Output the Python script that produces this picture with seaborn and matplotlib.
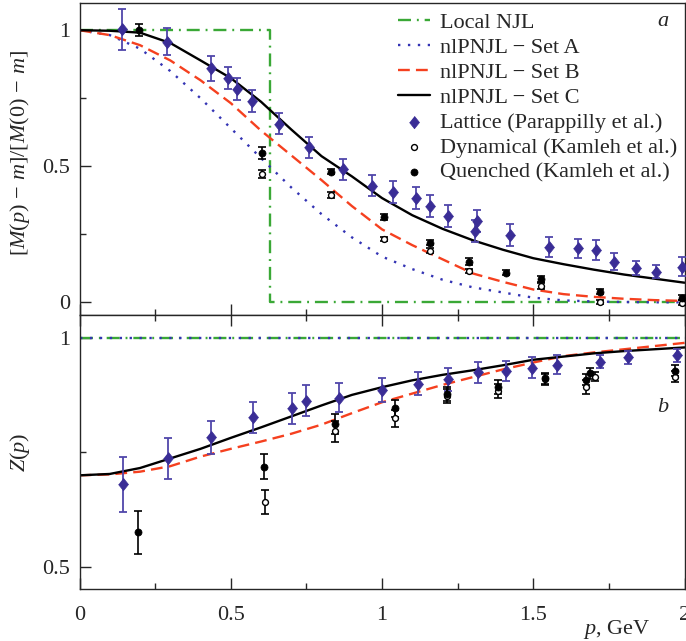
import matplotlib
matplotlib.use("Agg")
import matplotlib.pyplot as plt
from matplotlib.ticker import MultipleLocator, FuncFormatter
import seaborn as sns
import pandas as pd

# ---------------- data ----------------
p_curve = [0.0, 0.1, 0.2, 0.3, 0.4, 0.5, 0.6, 0.7, 0.8, 0.9, 1.0,
           1.1, 1.2, 1.3, 1.4, 1.5, 1.6, 1.7, 1.8, 1.9, 2.0]
M_setA = [1.0, 0.982, 0.932, 0.85, 0.75, 0.64, 0.53, 0.422, 0.324, 0.239, 0.168,
          0.122, 0.083, 0.055, 0.036, 0.017, 0.007, 0.003, 0.001, 0.0, 0.0]
M_setB = [1.0, 0.982, 0.945, 0.889, 0.816, 0.732, 0.631, 0.540, 0.449, 0.354, 0.268,
          0.21, 0.158, 0.106, 0.075, 0.047, 0.030, 0.020, 0.013, 0.008, 0.005]
M_setC = [1.0, 0.998, 0.991, 0.953, 0.889, 0.824, 0.737, 0.635, 0.537, 0.463, 0.383,
          0.32, 0.27, 0.228, 0.193, 0.162, 0.140, 0.120, 0.102, 0.087, 0.072]
Z_setB = [0.700, 0.702, 0.708, 0.720, 0.741, 0.758, 0.774, 0.791, 0.811, 0.836, 0.860,
          0.879, 0.898, 0.915, 0.932, 0.947, 0.961, 0.969, 0.976, 0.983, 0.990]
Z_setC = [0.700, 0.703, 0.716, 0.737, 0.758, 0.782, 0.805, 0.829, 0.853, 0.876, 0.893,
          0.908, 0.920, 0.930, 0.941, 0.953, 0.960, 0.967, 0.972, 0.976, 0.980]

local_p = [0.0, 0.628, 0.628, 2.0]
local_M = [1.0, 1.0, 0.0, 0.0]
flat_p = [0.0, 2.0]
flat_Z = [1.0, 1.0]

latt_p_M = [0.141, 0.290, 0.436, 0.492, 0.521, 0.569, 0.658, 0.759, 0.872, 0.966, 1.036, 1.111,
            1.160, 1.218, 1.306, 1.314, 1.422, 1.551, 1.648, 1.706, 1.767, 1.841, 1.904, 1.990]
latt_M = [1.004, 0.958, 0.860, 0.823, 0.783, 0.740, 0.656, 0.570, 0.489, 0.428, 0.404, 0.382,
          0.354, 0.317, 0.263, 0.300, 0.247, 0.204, 0.198, 0.192, 0.149, 0.125, 0.113, 0.131]
latt_M_err = [0.075, 0.05, 0.046, 0.04, 0.04, 0.04, 0.039, 0.038, 0.039, 0.039, 0.04, 0.04,
              0.039, 0.039, 0.04, 0.04, 0.04, 0.036, 0.036, 0.037, 0.031, 0.026, 0.025, 0.035]

q_p_M = [0.198, 0.603, 0.830, 1.007, 1.160, 1.288, 1.411, 1.524, 1.722, 1.990]
q_M = [0.999, 0.550, 0.480, 0.313, 0.219, 0.149, 0.109, 0.085, 0.039, 0.017]
q_M_err = [0.022, 0.022, 0.009, 0.01, 0.01, 0.012, 0.008, 0.012, 0.01, 0.01]

d_p_M = [0.603, 0.830, 1.007, 1.160, 1.288, 1.524, 1.722, 1.990]
d_M = [0.472, 0.394, 0.233, 0.190, 0.115, 0.060, 0.0, -0.001]
d_M_err = [0.015, 0.01, 0.008, 0.008, 0.008, 0.01, 0.008, 0.008]

latt_p_Z = [0.143, 0.292, 0.435, 0.573, 0.702, 0.750, 0.858, 1.0, 1.119, 1.218, 1.317, 1.409,
            1.496, 1.579, 1.720, 1.814, 1.974]
latt_Z = [0.680, 0.737, 0.783, 0.827, 0.847, 0.863, 0.870, 0.887, 0.901, 0.910, 0.926, 0.929,
          0.936, 0.942, 0.949, 0.958, 0.963]
latt_Z_err = [0.06, 0.045, 0.037, 0.034, 0.034, 0.034, 0.032, 0.026, 0.026, 0.026, 0.023, 0.022,
              0.024, 0.021, 0.015, 0.015, 0.014]

q_p_Z = [0.194, 0.609, 0.845, 1.044, 1.215, 1.383, 1.540, 1.674, 1.687, 1.968]
q_Z = [0.575, 0.719, 0.812, 0.847, 0.878, 0.894, 0.912, 0.909, 0.923, 0.929]
q_Z_err = [0.047, 0.027, 0.022, 0.019, 0.015, 0.015, 0.012, 0.012, 0.012, 0.012]

d_p_Z = [0.612, 0.845, 1.044, 1.215, 1.383, 1.540, 1.674, 1.703, 1.968]
d_Z = [0.641, 0.796, 0.825, 0.874, 0.885, 0.910, 0.893, 0.916, 0.916]
d_Z_err = [0.026, 0.022, 0.019, 0.015, 0.015, 0.012, 0.015, 0.01, 0.012]

labels = ["Local NJL", "nlPNJL \u2212 Set A", "nlPNJL \u2212 Set B", "nlPNJL \u2212 Set C",
          "Lattice (Parappilly et al.)", "Dynamical (Kamleh et al.)", "Quenched (Kamleh et al.)"]

# ---------------- style ----------------
sns.set_style("ticks")
plt.rcParams["font.family"] = ["Liberation Serif", "DejaVu Serif"]
plt.rcParams["mathtext.fontset"] = "custom"
plt.rcParams["mathtext.rm"] = "Liberation Serif"
plt.rcParams["mathtext.it"] = "Liberation Serif:italic"
plt.rcParams["axes.linewidth"] = 1.0

C_GREEN = "#3aa836"
C_BLUE = "#3434b4"
C_RED = "#f5401f"
C_LATT = "#3a2d96"
C_LATT_ERR = "#5046aa"

ls_dashdot = (0, (5.5, 2.5, 0.8, 2.5))
ls_dot = (0, (1, 3.2))
ls_dash = (0, (5.0, 2.6))
LW = 1.7

fig = plt.figure(figsize=(6.86, 6.41), dpi=100)
W = 686.0
H = 641.0
x0, x1 = 79.5, 684.6
ax1 = fig.add_axes([x0 / W, 1 - 315.5 / H, (x1 - x0) / W, (315.5 - 3) / H])
ax2 = fig.add_axes([x0 / W, 1 - 589.3 / H, (x1 - x0) / W, (589.3 - 315.5) / H])


def line(ax, x, y, color, ls, label=None):
    df = pd.DataFrame({"p": x, "v": y})
    sns.lineplot(data=df, x="p", y="v", ax=ax, color=color, linestyle=ls, lw=LW,
                 sort=False, estimator=None, label=label, legend=False)


def points(ax, x, y, err, kind, label=None):
    df = pd.DataFrame({"p": x, "v": y})
    if kind == "latt":
        ax.errorbar(x, y, yerr=err, fmt="none", ecolor=C_LATT_ERR, elinewidth=1.3,
                    capsize=3.2, capthick=1.3, zorder=4)
        diamond = [(0, 1), (0.8, 0), (0, -1), (-0.8, 0)]
        sns.scatterplot(data=df, x="p", y="v", ax=ax, marker=diamond, s=80, color=C_LATT,
                        edgecolor=C_LATT, linewidth=0.5, zorder=5, label=label, legend=False)
    elif kind == "quen":
        ax.errorbar(x, y, yerr=err, fmt="none", ecolor="black", elinewidth=1.2,
                    capsize=3, capthick=1.2, zorder=4)
        sns.scatterplot(data=df, x="p", y="v", ax=ax, marker="o", s=26, color="black",
                        edgecolor="black", linewidth=0.5, zorder=6, label=label, legend=False)
    else:
        ax.errorbar(x, y, yerr=err, fmt="none", ecolor="black", elinewidth=1.2,
                    capsize=3, capthick=1.2, zorder=4)
        sns.scatterplot(data=df, x="p", y="v", ax=ax, marker="o", s=18, color="white",
                        edgecolor="black", linewidth=1.0, zorder=6, label=label, legend=False)


# ---------------- top panel ----------------
line(ax1, local_p, local_M, C_GREEN, ls_dashdot, labels[0])
line(ax1, p_curve, M_setA, C_BLUE, ls_dot, labels[1])
line(ax1, p_curve, M_setB, C_RED, ls_dash, labels[2])
line(ax1, p_curve, M_setC, "black", "-", labels[3])
points(ax1, latt_p_M, latt_M, latt_M_err, "latt", labels[4])
points(ax1, d_p_M, d_M, d_M_err, "dyn", labels[5])
points(ax1, q_p_M, q_M, q_M_err, "quen", labels[6])

# ---------------- bottom panel ----------------
line(ax2, flat_p, flat_Z, C_GREEN, ls_dashdot)
line(ax2, flat_p, flat_Z, C_BLUE, ls_dot)
line(ax2, p_curve, Z_setB, C_RED, ls_dash)
line(ax2, p_curve, Z_setC, "black", "-")
points(ax2, latt_p_Z, latt_Z, latt_Z_err, "latt")
points(ax2, d_p_Z, d_Z, d_Z_err, "dyn")
points(ax2, q_p_Z, q_Z, q_Z_err, "quen")

fmt = FuncFormatter(lambda v, pos: "%g" % v)
for ax in (ax1, ax2):
    ax.set_xlim(0, 2)
    ax.xaxis.set_major_locator(MultipleLocator(0.5))
    ax.xaxis.set_minor_locator(MultipleLocator(0.25))
    ax.yaxis.set_major_formatter(fmt)
    ax.xaxis.set_major_formatter(fmt)
    ax.tick_params(which="both", direction="in", labelsize=16, width=1.0)
    ax.tick_params(which="major", length=8)
    ax.tick_params(which="minor", length=4.5)
    ax.tick_params(axis="y", pad=7)
    ax.set_xlabel("")
    ax.set_ylabel("")

ax1.set_ylim(-0.0485, 1.10)
ax1.yaxis.set_major_locator(MultipleLocator(0.5))
ax1.yaxis.set_minor_locator(MultipleLocator(0.25))
ax1.tick_params(axis="x", labelbottom=False)

ax2.set_ylim(0.4505, 1.0499)
ax2.yaxis.set_major_locator(MultipleLocator(0.5))
ax2.yaxis.set_minor_locator(MultipleLocator(0.25))
ax2.tick_params(axis="x", which="both", top=True, pad=12)

ax1.set_ylabel(r"$[M(p)\,-\,m]/[M(0)\,-\,m]$", fontsize=16)
ax1.yaxis.set_label_coords(-0.078, 0.52)
ax2.set_ylabel(r"$Z(p)$", fontsize=16)
ax2.yaxis.set_label_coords(-0.078, 0.5)
ax2.set_xlabel(r"$p$, GeV", fontsize=16)
ax2.xaxis.set_label_coords((650 - x0) / (x1 - x0), -0.105)
ax2.xaxis.label.set_horizontalalignment("right")

ax1.text((663 - x0) / (x1 - x0), 1 - (22 - 3) / 312.5, "a", transform=ax1.transAxes,
         fontsize=16, style="italic", ha="center", va="center")
ax2.text((663 - x0) / (x1 - x0), (589.3 - 408) / 273.8, "b", transform=ax2.transAxes,
         fontsize=16, style="italic", ha="center", va="center")

h, l = ax1.get_legend_handles_labels()
order = [l.index(s) for s in labels]
ax1.legend([h[i] for i in order], [l[i] for i in order], loc="upper left",
           bbox_to_anchor=((398 - x0) / (x1 - x0), 0.970), frameon=False, fontsize=16,
           borderaxespad=0, borderpad=0, handlelength=1.45, handletextpad=0.45,
           labelspacing=0.2)

fig.savefig("out.png", dpi=100)
